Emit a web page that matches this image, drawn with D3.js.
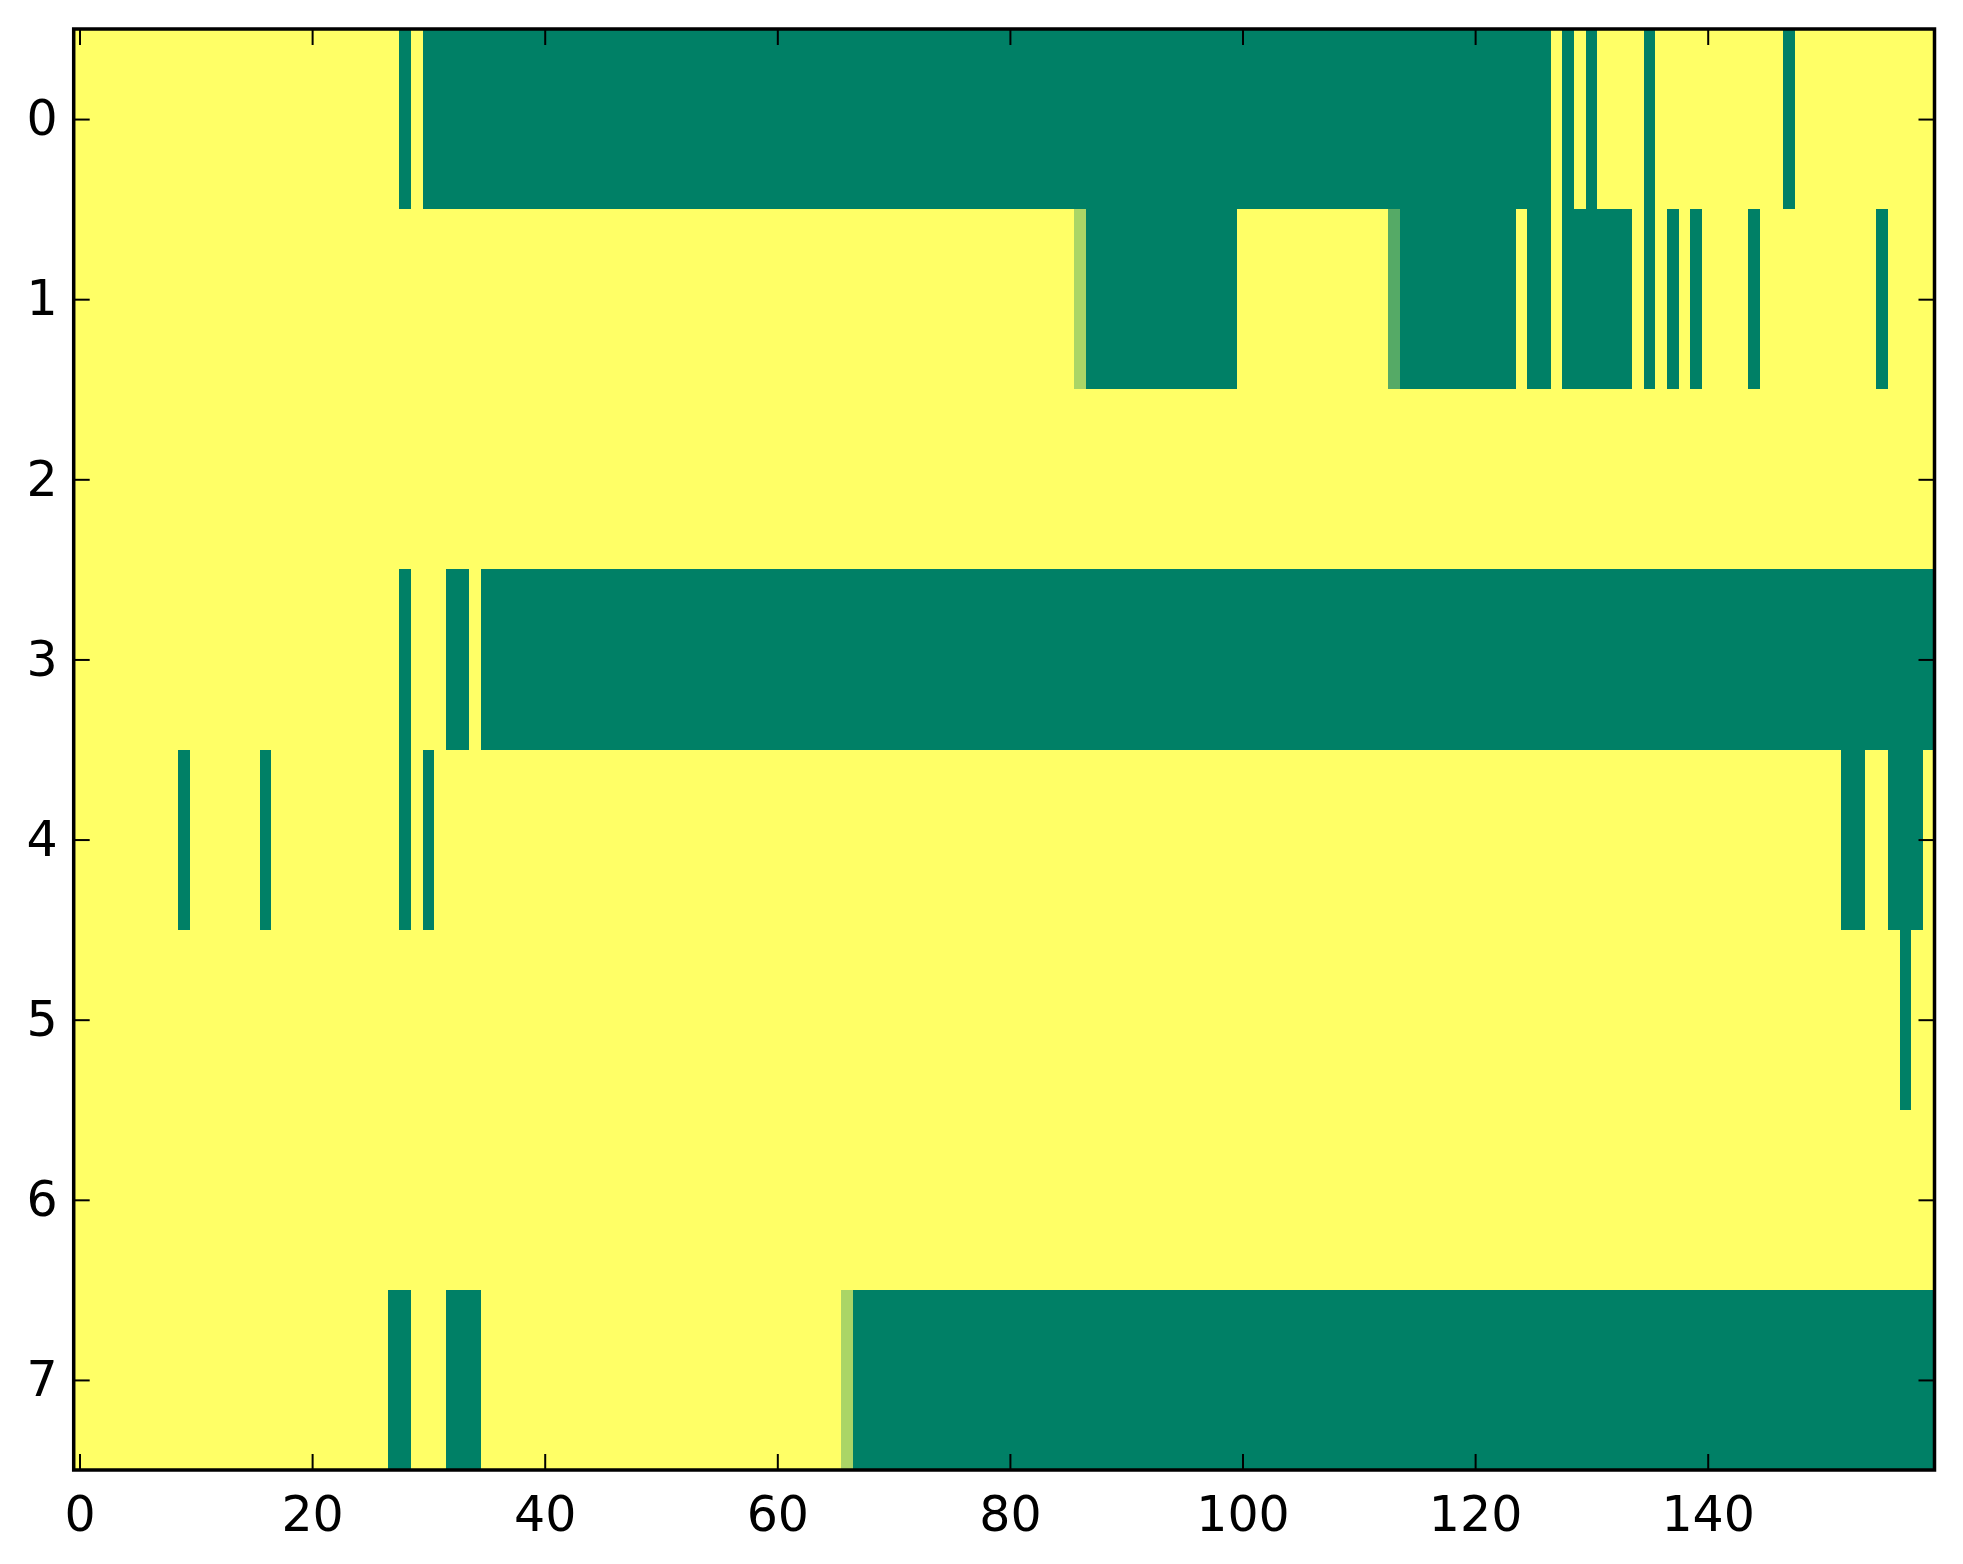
<!DOCTYPE html>
<html>
<head>
  <meta charset="utf-8">
  <script src="https://d3js.org/d3.v7.min.js"></script>
  <style>
    body {
      margin: 0;
      background: #ffffff;
    }

    .tick text {
      font-family: "DejaVu Sans", sans-serif;
      font-size: 49px;
      fill: #000000;
    }

    .tick line {
      stroke: #000000;
      stroke-width: 2;
    }

    path.domain {
      display: none;
    }
  </style>
</head>

<body>
  <script>
    // row index labels and x tick labels
    const rowLabels = [0, 1, 2, 3, 4, 5, 6, 7];
    const xTickValues = [0, 20, 40, 60, 80, 100, 120, 140];

    // one string per row, one digit per column (0 = none ... 3 = full)
    const row0 = "0000000000 0000000000 0000000030 3333333333 3333333333 3333333333 3333333333 3333333333 3333333333 3333333333 3333333333 3333333333 3333333030 3000030000 0000000300 0000000000";
    const row1 = "0000000000 0000000000 0000000000 0000000000 0000000000 0000000000 0000000000 0000000000 0000001333 3333333333 0000000000 0002333333 3333033033 3333030303 0000300000 0000030000";
    const row2 = "0000000000 0000000000 0000000000 0000000000 0000000000 0000000000 0000000000 0000000000 0000000000 0000000000 0000000000 0000000000 0000000000 0000000000 0000000000 0000000000";
    const row3 = "0000000000 0000000000 0000000030 0033033333 3333333333 3333333333 3333333333 3333333333 3333333333 3333333333 3333333333 3333333333 3333333333 3333333333 3333333333 3333333333";
    const row4 = "0000000003 0000003000 0000000030 3000000000 0000000000 0000000000 0000000000 0000000000 0000000000 0000000000 0000000000 0000000000 0000000000 0000000000 0000000000 0033003330";
    const row5 = "0000000000 0000000000 0000000000 0000000000 0000000000 0000000000 0000000000 0000000000 0000000000 0000000000 0000000000 0000000000 0000000000 0000000000 0000000000 0000000300";
    const row6 = "0000000000 0000000000 0000000000 0000000000 0000000000 0000000000 0000000000 0000000000 0000000000 0000000000 0000000000 0000000000 0000000000 0000000000 0000000000 0000000000";
    const row7 = "0000000000 0000000000 0000000330 0033300000 0000000000 0000000000 0000001333 3333333333 3333333333 3333333333 3333333333 3333333333 3333333333 3333333333 3333333333 3333333333";

    const rowStrings = [row0, row1, row2, row3, row4, row5, row6, row7];

    const width = 1963;
    const height = 1564;
    const margin = { top: 29, right: 28.5, bottom: 94, left: 73.7 };
    const tickLen = 16;

    const rows = rowStrings.map(s => s.replace(/ /g, '').split('').map(Number));
    const nCols = rows[0].length;

    const cells = [];
    rows.forEach((vals, r) => vals.forEach((v, c) => cells.push({ r: r, c: c, v: v })));

    const svg = d3.select('body').append('svg')
      .attr('width', width)
      .attr('height', height);

    const xBand = d3.scaleBand()
      .domain(d3.range(nCols))
      .range([margin.left, width - margin.right]);

    const yBand = d3.scaleBand()
      .domain(rowLabels)
      .range([margin.top, height - margin.bottom]);

    const x = d3.scaleLinear()
      .domain([-0.5, nCols - 0.5])
      .range([margin.left, width - margin.right]);

    const y = d3.scaleLinear()
      .domain([-0.5, rowLabels.length - 0.5])
      .range([margin.top, height - margin.bottom]);

    // summer_r: yellow at 0, green at max
    const colour = d3.scaleLinear()
      .domain([0, 3])
      .range(['#ffff66', '#008066']);

    svg.append('g')
      .selectAll('rect')
      .data(cells)
      .enter()
      .append('rect')
      .attr('x', d => xBand(d.c))
      .attr('y', d => yBand(d.r))
      .attr('width', xBand.bandwidth())
      .attr('height', yBand.bandwidth())
      .attr('shape-rendering', 'crispEdges')
      .style('fill', d => colour(d.v));

    // ticks point inwards on all four sides
    svg.append('g')
      .attr('transform', `translate(0, ${height - margin.bottom})`)
      .call(d3.axisBottom(x).tickValues(xTickValues).tickSizeInner(-tickLen).tickSizeOuter(0).tickPadding(26));

    svg.append('g')
      .attr('transform', `translate(0, ${margin.top})`)
      .call(d3.axisTop(x).tickValues(xTickValues).tickSizeInner(-tickLen).tickSizeOuter(0).tickFormat(''));

    svg.append('g')
      .attr('transform', `translate(${margin.left}, 0)`)
      .call(d3.axisLeft(y).tickValues(rowLabels).tickSizeInner(-tickLen).tickSizeOuter(0).tickPadding(16));

    svg.append('g')
      .attr('transform', `translate(${width - margin.right}, 0)`)
      .call(d3.axisRight(y).tickValues(rowLabels).tickSizeInner(-tickLen).tickSizeOuter(0).tickFormat(''));

    svg.append('rect')
      .attr('x', margin.left)
      .attr('y', margin.top)
      .attr('width', width - margin.left - margin.right)
      .attr('height', height - margin.top - margin.bottom)
      .style('fill', 'none')
      .style('stroke', '#000000')
      .style('stroke-width', 3.5);
  </script>
</body>
</html>
